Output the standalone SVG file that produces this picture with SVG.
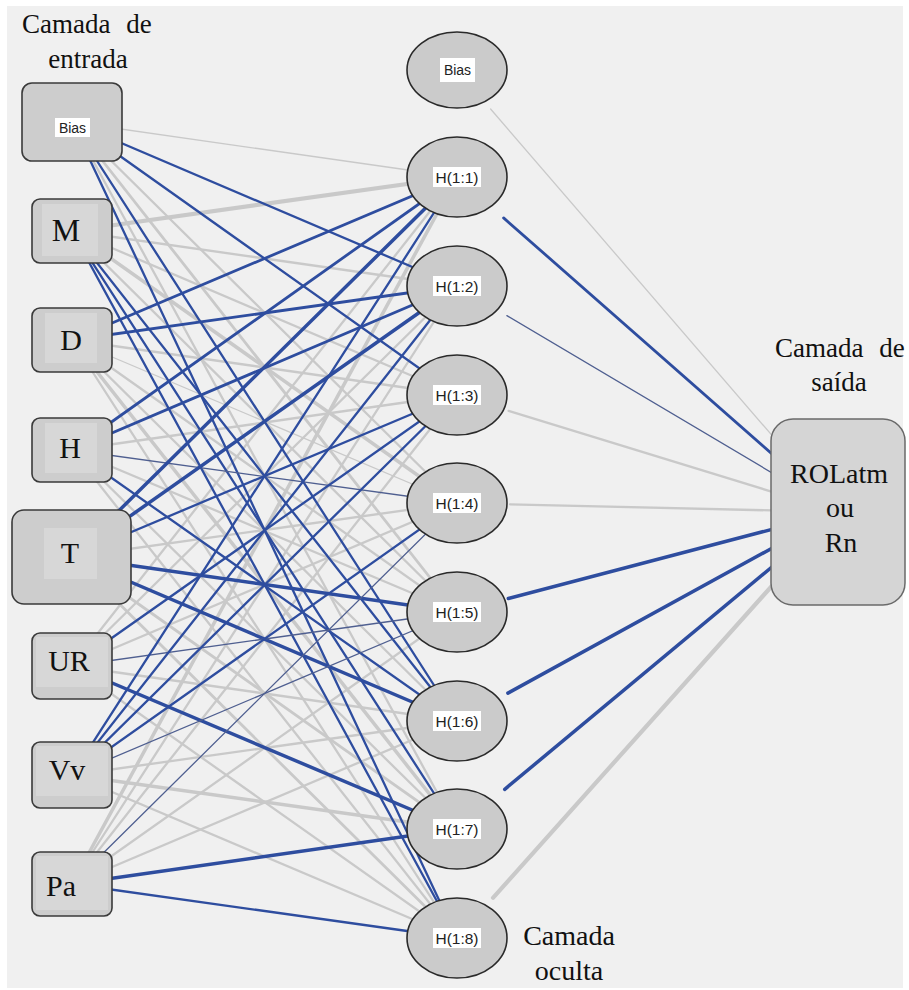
<svg xmlns="http://www.w3.org/2000/svg" width="909" height="990" viewBox="0 0 909 990">
<style>
.g{stroke:#c9c9c9;stroke-linecap:round}
.b{stroke:#2e4d9f;stroke-linecap:round}
.d{stroke:#4f5f90;stroke-linecap:round}
.w1{stroke-width:1.3}
.w2{stroke-width:2.3}
.w25{stroke-width:2.8}
.w3{stroke-width:3.5}
.w4{stroke-width:4.2}
.box{fill:#cdcdcd;stroke:#3a3a3a;stroke-width:1.6}
.inner{fill:#d7d7d7}
.hid{fill:#cbcbcb;stroke:#2a2a2a;stroke-width:1.6}
.lab{fill:#ffffff}
.serif{font-family:"Liberation Serif","Times New Roman",serif;fill:#111}
.sans{font-family:"Liberation Sans",Arial,sans-serif;fill:#222}
</style>
<rect x="0" y="0" width="909" height="990" fill="#ffffff"/>
<rect x="7" y="6" width="896" height="982" fill="#f0f0f0"/>

<g id="connectors">
<line class="g w1" x1="72" y1="122" x2="457" y2="177"/>
<line class="g w2" x1="72" y1="122" x2="457" y2="503"/>
<line class="g w25" x1="72" y1="122" x2="457" y2="612"/>
<line class="g w2" x1="72" y1="122" x2="457" y2="829"/>
<line class="g w4" x1="72" y1="231" x2="457" y2="177"/>
<line class="g w2" x1="72" y1="231" x2="457" y2="286"/>
<line class="g w2" x1="72" y1="231" x2="457" y2="395"/>
<line class="g w3" x1="72" y1="231" x2="457" y2="503"/>
<line class="g w2" x1="72" y1="231" x2="457" y2="612"/>
<line class="g w2" x1="72" y1="340" x2="457" y2="395"/>
<line class="g w1" x1="72" y1="340" x2="457" y2="503"/>
<line class="g w2" x1="72" y1="340" x2="457" y2="612"/>
<line class="g w2" x1="72" y1="340" x2="457" y2="721"/>
<line class="g w3" x1="72" y1="340" x2="457" y2="829"/>
<line class="g w2" x1="72" y1="340" x2="457" y2="938"/>
<line class="g w2" x1="72" y1="450" x2="457" y2="395"/>
<line class="g w2" x1="72" y1="450" x2="457" y2="612"/>
<line class="g w2" x1="72" y1="450" x2="457" y2="829"/>
<line class="g w2" x1="72" y1="450" x2="457" y2="938"/>
<line class="g w2" x1="72" y1="557" x2="457" y2="503"/>
<line class="g w25" x1="72" y1="557" x2="457" y2="829"/>
<line class="g w25" x1="72" y1="557" x2="457" y2="938"/>
<line class="g w2" x1="72" y1="666" x2="457" y2="177"/>
<line class="g w2" x1="72" y1="666" x2="457" y2="286"/>
<line class="g w2" x1="72" y1="666" x2="457" y2="503"/>
<line class="g w2" x1="72" y1="666" x2="457" y2="721"/>
<line class="g w2" x1="72" y1="666" x2="457" y2="938"/>
<line class="g w2" x1="72" y1="775" x2="457" y2="721"/>
<line class="g w3" x1="72" y1="775" x2="457" y2="829"/>
<line class="g w2" x1="72" y1="775" x2="457" y2="938"/>
<line class="g w3" x1="72" y1="884" x2="457" y2="177"/>
<line class="g w2" x1="72" y1="884" x2="457" y2="286"/>
<line class="g w2" x1="72" y1="884" x2="457" y2="395"/>
<line class="g w2" x1="72" y1="884" x2="457" y2="612"/>
<line class="g w2" x1="72" y1="884" x2="457" y2="721"/>
<line class="b w2" x1="72" y1="122" x2="457" y2="286"/>
<line class="b w2" x1="72" y1="122" x2="457" y2="395"/>
<line class="b w2" x1="72" y1="122" x2="457" y2="721"/>
<line class="b w2" x1="72" y1="122" x2="457" y2="938"/>
<line class="b w2" x1="72" y1="231" x2="457" y2="721"/>
<line class="b w2" x1="72" y1="231" x2="457" y2="829"/>
<line class="b w2" x1="72" y1="231" x2="457" y2="938"/>
<line class="b w25" x1="72" y1="340" x2="457" y2="177"/>
<line class="b w25" x1="72" y1="340" x2="457" y2="286"/>
<line class="b w25" x1="72" y1="450" x2="457" y2="177"/>
<line class="b w25" x1="72" y1="450" x2="457" y2="286"/>
<line class="d w1" x1="72" y1="450" x2="457" y2="503"/>
<line class="b w2" x1="72" y1="450" x2="457" y2="721"/>
<line class="b w3" x1="72" y1="557" x2="457" y2="177"/>
<line class="b w3" x1="72" y1="557" x2="457" y2="286"/>
<line class="b w2" x1="72" y1="557" x2="457" y2="395"/>
<line class="b w3" x1="72" y1="557" x2="457" y2="612"/>
<line class="b w3" x1="72" y1="557" x2="457" y2="721"/>
<line class="b w2" x1="72" y1="666" x2="457" y2="395"/>
<line class="d w1" x1="72" y1="666" x2="457" y2="612"/>
<line class="b w3" x1="72" y1="666" x2="457" y2="829"/>
<line class="b w2" x1="72" y1="775" x2="457" y2="177"/>
<line class="b w2" x1="72" y1="775" x2="457" y2="286"/>
<line class="b w2" x1="72" y1="775" x2="457" y2="395"/>
<line class="b w2" x1="72" y1="775" x2="457" y2="503"/>
<line class="d w1" x1="72" y1="775" x2="457" y2="612"/>
<line class="d w1" x1="72" y1="884" x2="457" y2="503"/>
<line class="b w3" x1="72" y1="884" x2="457" y2="829"/>
<line class="b w2" x1="72" y1="884" x2="457" y2="938"/>
<line class="g w1" x1="490.6" y1="109" x2="838" y2="512"/>
<line class="b w25" x1="503.6" y1="217.9" x2="838" y2="512"/>
<line class="d w1" x1="506.9" y1="315.6" x2="838" y2="512"/>
<line class="g w2" x1="508.6" y1="410.9" x2="838" y2="512"/>
<line class="g w2" x1="510" y1="504.3" x2="838" y2="512"/>
<line class="b w3" x1="508.3" y1="598.5" x2="838" y2="512"/>
<line class="b w3" x1="507.9" y1="693.1" x2="838" y2="512"/>
<line class="b w3" x1="504.7" y1="789.3" x2="838" y2="512"/>
<line class="g w4" x1="493" y1="897.8" x2="838" y2="512"/>
</g>

<g id="in-bias">
<rect class="box" x="22" y="83" width="100" height="78" rx="10"/>
<rect class="lab" x="55" y="118" width="35" height="19"/>
<text class="sans" x="72.5" y="133" font-size="14" text-anchor="middle">Bias</text>
</g>
<g id="in-M">
<rect class="box" x="32" y="199" width="80" height="64" rx="8"/>
<rect class="inner" x="42" y="204" width="56" height="52"/>
<text class="serif" x="66" y="241" font-size="32" text-anchor="middle">M</text>
</g>
<g id="in-D">
<rect class="box" x="32" y="308" width="80" height="64" rx="8"/>
<rect class="inner" x="45" y="313" width="52" height="50"/>
<text class="serif" x="71" y="350" font-size="30" text-anchor="middle">D</text>
</g>
<g id="in-H">
<rect class="box" x="32" y="418" width="80" height="64" rx="8"/>
<rect class="inner" x="45" y="423" width="52" height="50"/>
<text class="serif" x="70" y="458" font-size="30" text-anchor="middle">H</text>
</g>
<g id="in-T">
<rect class="box" x="12" y="510" width="119" height="94" rx="12"/>
<rect class="inner" x="44" y="528" width="53" height="51"/>
<text class="serif" x="70" y="563" font-size="30" text-anchor="middle">T</text>
</g>
<g id="in-UR">
<rect class="box" x="32" y="633" width="80" height="66" rx="8"/>
<rect class="inner" x="36" y="637" width="72" height="50"/>
<text class="serif" x="69" y="671" font-size="30" text-anchor="middle">UR</text>
</g>
<g id="in-Vv">
<rect class="box" x="32" y="742" width="80" height="66" rx="8"/>
<rect class="inner" x="36" y="746" width="72" height="50"/>
<text class="serif" x="67" y="780" font-size="30" text-anchor="middle">Vv</text>
</g>
<g id="in-Pa">
<rect class="box" x="32" y="852" width="80" height="64" rx="8"/>
<rect class="inner" x="36" y="856" width="72" height="54"/>
<text class="serif" x="61" y="896" font-size="30" text-anchor="middle">Pa</text>
</g>

<g id="h-bias">
<ellipse class="hid" cx="457" cy="70" rx="50" ry="38"/>
<rect class="lab" x="440" y="58" width="35" height="24"/>
<text class="sans" x="457.5" y="75" font-size="14" text-anchor="middle">Bias</text>
</g>
<g id="h1">
<ellipse class="hid" cx="457" cy="177" rx="50" ry="40"/>
<rect class="lab" x="433" y="167" width="48" height="20"/>
<text class="sans" x="457" y="183" font-size="15.5" text-anchor="middle">H(1:1)</text>
</g>
<g id="h2">
<ellipse class="hid" cx="457" cy="286" rx="50" ry="40"/>
<rect class="lab" x="433" y="276" width="48" height="20"/>
<text class="sans" x="457" y="292" font-size="15.5" text-anchor="middle">H(1:2)</text>
</g>
<g id="h3">
<ellipse class="hid" cx="457" cy="395" rx="50" ry="40"/>
<rect class="lab" x="433" y="385" width="48" height="20"/>
<text class="sans" x="457" y="401" font-size="15.5" text-anchor="middle">H(1:3)</text>
</g>
<g id="h4">
<ellipse class="hid" cx="457" cy="503" rx="50" ry="40"/>
<rect class="lab" x="433" y="493" width="48" height="20"/>
<text class="sans" x="457" y="509" font-size="15.5" text-anchor="middle">H(1:4)</text>
</g>
<g id="h5">
<ellipse class="hid" cx="457" cy="612" rx="50" ry="40"/>
<rect class="lab" x="433" y="602" width="48" height="20"/>
<text class="sans" x="457" y="618" font-size="15.5" text-anchor="middle">H(1:5)</text>
</g>
<g id="h6">
<ellipse class="hid" cx="457" cy="721" rx="50" ry="40"/>
<rect class="lab" x="433" y="711" width="48" height="20"/>
<text class="sans" x="457" y="727" font-size="15.5" text-anchor="middle">H(1:6)</text>
</g>
<g id="h7">
<ellipse class="hid" cx="457" cy="829" rx="50" ry="40"/>
<rect class="lab" x="433" y="819" width="48" height="20"/>
<text class="sans" x="457" y="835" font-size="15.5" text-anchor="middle">H(1:7)</text>
</g>
<g id="h8">
<ellipse class="hid" cx="457" cy="938" rx="50" ry="40"/>
<rect class="lab" x="433" y="928" width="48" height="20"/>
<text class="sans" x="457" y="944" font-size="15.5" text-anchor="middle">H(1:8)</text>
</g>

<g id="out">
<rect x="771" y="419" width="134" height="186" rx="22" fill="#d5d5d5" stroke="#6a6a6a" stroke-width="1.5"/>
<text class="serif" x="839" y="483" font-size="28" text-anchor="middle">ROLatm</text>
<text class="serif" x="840" y="517" font-size="28" text-anchor="middle">ou</text>
<text class="serif" x="841" y="552" font-size="28" text-anchor="middle">Rn</text>
</g>

<g id="titles">
<text class="serif" x="22" y="33" font-size="27" word-spacing="9">Camada de</text>
<text class="serif" x="88" y="68" font-size="27" text-anchor="middle">entrada</text>
<text class="serif" x="775" y="357" font-size="27" word-spacing="9">Camada de</text>
<text class="serif" x="839" y="391" font-size="27" text-anchor="middle">saída</text>
<text class="serif" x="569" y="945" font-size="28" text-anchor="middle">Camada</text>
<text class="serif" x="569" y="980" font-size="28" text-anchor="middle">oculta</text>
</g>
</svg>
